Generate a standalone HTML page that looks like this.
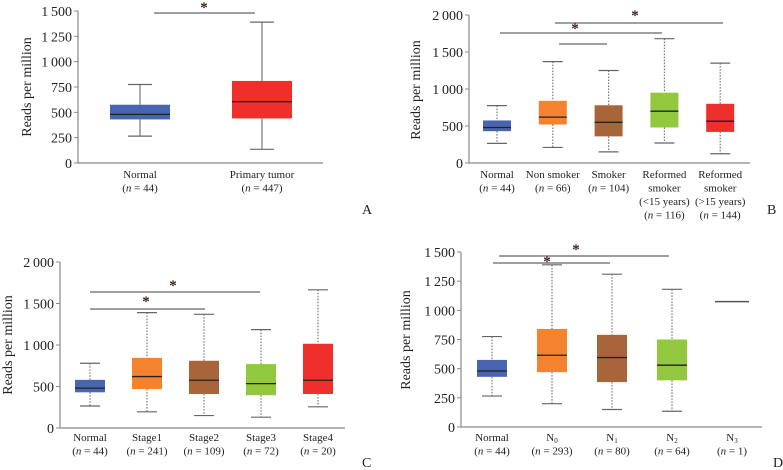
<!DOCTYPE html>
<html><head><meta charset="utf-8"><style>
html,body{margin:0;padding:0;background:#fff}
svg{display:block;font-family:"Liberation Serif",serif}
</style></head><body>
<svg id="fig" width="783" height="470" viewBox="0 0 783 470" xmlns="http://www.w3.org/2000/svg"></svg>
<script>
// Panel A data
const catsA = ["Normal|(n = 44)", "Primary tumor|(n = 447)"];
const minA = [265, 135], q1A = [430, 440], medA = [480, 605], q3A = [575, 810], maxA = [775, 1390];
const ticksA = [0, 250, 500, 750, 1000, 1250, 1500];
// Panel B data
const catsB = ["Normal|(n = 44)", "Non smoker|(n = 66)", "Smoker|(n = 104)", "Reformed|smoker|(<15 years)|(n = 116)", "Reformed|smoker|(>15 years)|(n = 144)"];
const minB = [265, 210, 150, 270, 125], q1B = [430, 520, 360, 480, 420], medB = [480, 620, 550, 700, 565], q3B = [575, 840, 780, 950, 800], maxB = [775, 1370, 1250, 1680, 1350];
const ticksB = [0, 500, 1000, 1500, 2000];
// Panel C data
const catsC = ["Normal|(n = 44)", "Stage1|(n = 241)", "Stage2|(n = 109)", "Stage3|(n = 72)", "Stage4|(n = 20)"];
const minC = [265, 195, 150, 130, 255], q1C = [430, 470, 410, 395, 410], medC = [480, 620, 575, 535, 575], q3C = [580, 845, 810, 770, 1015], maxC = [780, 1390, 1370, 1185, 1665];
const ticksC = [0, 500, 1000, 1500, 2000];
// Panel D data
const catsD = ["Normal|(n = 44)", "N0|(n = 293)", "N1|(n = 80)", "N2|(n = 64)", "N3|(n = 1)"];
const minD = [265, 200, 150, 135, 1075], q1D = [430, 470, 385, 400, 1075], medD = [480, 615, 595, 530, 1075], q3D = [575, 840, 790, 750, 1075], maxD = [775, 1390, 1310, 1180, 1075];
const ticksD = [0, 250, 500, 750, 1000, 1250, 1500];

const NS = "http://www.w3.org/2000/svg";
const svg = document.getElementById("fig");
function mk(tag, attrs, parent) {
  const e = document.createElementNS(NS, tag);
  for (const k in attrs) e.setAttribute(k, attrs[k]);
  (parent || svg).appendChild(e);
  return e;
}
function fmt(v) { const s = String(v); return s.length > 3 ? s.slice(0, s.length - 3) + "\u2009" + s.slice(-3) : s; }

function panel(p) {
  const g = mk("g", {});
  
  
  const y = v => p.y0 - (v / p.ymax) * (p.y0 - p.ytop);
  const x = i => p.x0c + i * p.dx;
  const ax = mk("path", { d: `M${p.ax} ${p.ytop} V${p.y0} H${p.axEnd}`, stroke: "#888", fill: "none", "stroke-width": 1.2 }, g);
  
  
  p.ticks.forEach(t => {
    mk("line", { x1: p.ax - 4, x2: p.ax, y1: y(t), y2: y(t), stroke: "#888" }, g);
    const tx = mk("text", { x: p.ax - 6, y: y(t) + 5, "text-anchor": "end", "font-size": 14, fill: "#222" }, g);
    tx.textContent = fmt(t);
    
    
  });
  const yl = mk("text", { transform: `translate(${p.ylx},${p.yly}) rotate(-90)`, "text-anchor": "middle", "font-size": 14, fill: "#222" }, g);
  yl.textContent = "Reads per million";
  
  
  p.cats.forEach((c, i) => {
    const cx = x(i), hw = p.bw / 2;
    const col = p.colors[i];
    const dash = p.dotted ? "1.5,1.5" : "none";
    if (p.mn[i] === p.mx[i]) {
      const l = mk("line", { x1: cx - 17, x2: cx + 17, y1: y(p.md[i]), y2: y(p.md[i]), stroke: "#555", "stroke-width": 1.5 }, g);
      
      
    } else {
      mk("line", { x1: cx, x2: cx, y1: y(p.mx[i]), y2: y(p.q3[i]), stroke: "#777", "stroke-dasharray": dash, "stroke-width": 1.2 }, g);
      mk("line", { x1: cx, x2: cx, y1: y(p.q1[i]), y2: y(p.mn[i]), stroke: "#777", "stroke-dasharray": dash, "stroke-width": 1.2 }, g);
      mk("line", { x1: cx - p.cap, x2: cx + p.cap, y1: y(p.mx[i]), y2: y(p.mx[i]), stroke: "#666", "stroke-width": 1.2 }, g);
      mk("line", { x1: cx - p.cap, x2: cx + p.cap, y1: y(p.mn[i]), y2: y(p.mn[i]), stroke: "#666", "stroke-width": 1.2 }, g);
      const r = mk("rect", { x: cx - hw, y: y(p.q3[i]), width: p.bw, height: y(p.q1[i]) - y(p.q3[i]), fill: col }, g);
      
      
      mk("line", { x1: cx - hw, x2: cx + hw, y1: y(p.md[i]), y2: y(p.md[i]), stroke: "#222", "stroke-width": 1.3 }, g);
    }
    const lines = c.split("|");
    lines.forEach((ln, j) => {
      const t = mk("text", { x: cx, y: p.ly + j * 13.5, "text-anchor": "middle", "font-size": 11, fill: "#222" }, g);
      
      
      const m = ln.match(/^\(n = (.*)\)$/);
      const sub = ln.match(/^N(\d)$/);
      if (m) {
        t.appendChild(document.createTextNode("("));
        const it = mk("tspan", { "font-style": "italic" }, t); it.textContent = "n";
        t.appendChild(document.createTextNode(" = " + m[1] + ")"));
      } else if (sub) {
        t.appendChild(document.createTextNode("N"));
        const s = mk("tspan", { "font-size": 7, dy: 2 }, t); s.textContent = sub[1];
      } else t.textContent = ln;
    });
  });
  p.sig.forEach(s => {
    const l = mk("line", { x1: s[0], x2: s[1], y1: s[2], y2: s[2], stroke: "#666", "stroke-width": 1.2 }, g);
    
    
    if (s[3]) {
      const st = mk("text", { x: s[3], y: s[4] + 6, "text-anchor": "middle", "font-size": 15, fill: "#3a1a1a", "font-weight": "bold" }, g);
      st.textContent = "*";
      
      
    }
  });
  const pl = mk("text", { x: p.lab[0], y: p.lab[1], "font-size": 14, fill: "#222" }, g);
  pl.textContent = p.letter;
  
  
}
const C5 = ["#4a65b0", "#f4822f", "#a9653a", "#92c83e", "#ee2f2c"];
panel({ name: "panel-a", cats: catsA, mn: minA, q1: q1A, md: medA, q3: q3A, mx: maxA, ticks: ticksA, ymax: 1500,
  ax: 78, axEnd: 323, y0: 163, ytop: 11, x0c: 140, dx: 122, bw: 60, cap: 12, dotted: false, colors: ["#4a65b0", "#ee2f2c"],
  ylx: 31, yly: 87, ly: 178, sig: [[154, 255, 13, 204, 6]], lab: [362, 214], letter: "A" });
panel({ name: "panel-b", cats: catsB, mn: minB, q1: q1B, md: medB, q3: q3B, mx: maxB, ticks: ticksB, ymax: 2000,
  ax: 469, axEnd: 750, y0: 163, ytop: 15, x0c: 497, dx: 55.8, bw: 28, cap: 10, dotted: true, colors: C5,
  ylx: 420, yly: 90, ly: 178, sig: [[555, 723, 23, 635, 14], [500, 662, 33, 575, 27], [559, 607, 44, 0, 0]], lab: [767, 214], letter: "B" });
panel({ name: "panel-c", cats: catsC, mn: minC, q1: q1C, md: medC, q3: q3C, mx: maxC, ticks: ticksC, ymax: 2000,
  ax: 60, axEnd: 345, y0: 428, ytop: 262, x0c: 90, dx: 57, bw: 30, cap: 10, dotted: true, colors: C5,
  ylx: 12, yly: 345, ly: 441, sig: [[90, 260, 292, 173, 284], [90, 205, 309, 146, 300]], lab: [362, 467], letter: "C" });
panel({ name: "panel-d", cats: catsD, mn: minD, q1: q1D, md: medD, q3: q3D, mx: maxD, ticks: ticksD, ymax: 1500,
  ax: 461, axEnd: 762, y0: 427, ytop: 252, x0c: 492, dx: 60, bw: 30, cap: 10, dotted: true, colors: C5,
  ylx: 410, yly: 340, ly: 441, sig: [[499, 669, 256, 576, 248], [493, 610, 263, 547, 260]], lab: [773, 467], letter: "D" });
</script>
</body></html>
